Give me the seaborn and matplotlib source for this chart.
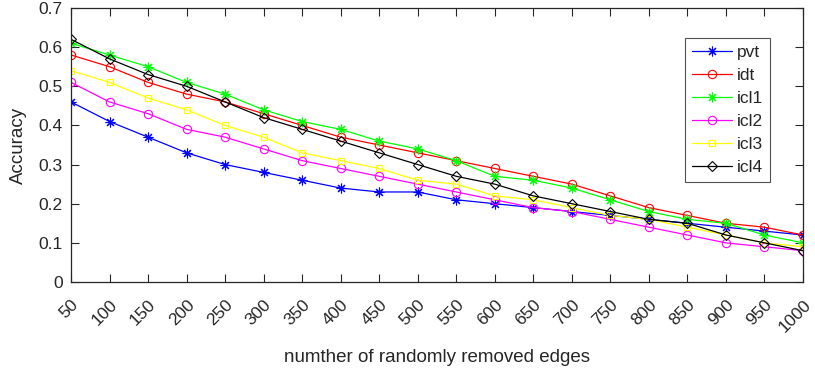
import matplotlib
matplotlib.use("Agg")
import matplotlib.pyplot as plt
import seaborn as sns
import pandas as pd

edges = [50, 100, 150, 200, 250, 300, 350, 400, 450, 500,
         550, 600, 650, 700, 750, 800, 850, 900, 950, 1000]
pvt = [0.46, 0.41, 0.37, 0.33, 0.30, 0.28, 0.26, 0.24, 0.23, 0.23,
       0.21, 0.20, 0.19, 0.18, 0.17, 0.16, 0.15, 0.14, 0.13, 0.12]
idt = [0.58, 0.55, 0.51, 0.48, 0.46, 0.43, 0.40, 0.37, 0.35, 0.33,
       0.31, 0.29, 0.27, 0.25, 0.22, 0.19, 0.17, 0.15, 0.14, 0.12]
icl1 = [0.61, 0.58, 0.55, 0.51, 0.48, 0.44, 0.41, 0.39, 0.36, 0.34,
        0.31, 0.27, 0.26, 0.24, 0.21, 0.18, 0.16, 0.15, 0.12, 0.10]
icl2 = [0.51, 0.46, 0.43, 0.39, 0.37, 0.34, 0.31, 0.29, 0.27, 0.25,
        0.23, 0.21, 0.19, 0.18, 0.16, 0.14, 0.12, 0.10, 0.09, 0.08]
icl3 = [0.54, 0.51, 0.47, 0.44, 0.40, 0.37, 0.33, 0.31, 0.29, 0.26,
        0.25, 0.22, 0.21, 0.19, 0.17, 0.16, 0.14, 0.12, 0.10, 0.09]
icl4 = [0.62, 0.57, 0.53, 0.50, 0.46, 0.42, 0.39, 0.36, 0.33, 0.30,
        0.27, 0.25, 0.22, 0.20, 0.18, 0.16, 0.15, 0.12, 0.10, 0.08]

series_names = ["pvt", "idt", "icl1", "icl2", "icl3", "icl4"]
series_values = [pvt, idt, icl1, icl2, icl3, icl4]
colors = ["#0000ff", "#ff0000", "#00ff00", "#ff00ff", "#ffff00", "#000000"]
asterisk = (8, 2, 0)
markers = [asterisk, "o", asterisk, "o", "s", "D"]
msizes = [7, 6, 7, 6, 5, 5.5]
y_ticks = [0, 0.1, 0.2, 0.3, 0.4, 0.5, 0.6, 0.7]
y_ticklabels = ["0", "0.1", "0.2", "0.3", "0.4", "0.5", "0.6", "0.7"]

sns.set_theme(style="white")
plt.rcParams["font.family"] = ["Liberation Sans", "DejaVu Sans"]

df = pd.DataFrame({
    "edges": edges * len(series_names),
    "acc": sum(series_values, []),
    "method": sum([[n] * len(edges) for n in series_names], []),
})

fig = plt.figure(figsize=(8.15, 3.75), dpi=100)
ax = fig.add_axes([0.0871, 0.248, 0.8982, 0.7307])

for name, col, mk, ms in zip(series_names, colors, markers, msizes):
    sub = df[df["method"] == name]
    filled = mk == asterisk
    sns.lineplot(data=sub, x="edges", y="acc", ax=ax, color=col, lw=0.9,
                 marker=mk, markersize=ms,
                 markerfacecolor=col if filled else "none",
                 markeredgecolor=col, markeredgewidth=0.8,
                 label=name, legend=False)

ax.set_xlim(50, 1000)
ax.set_ylim(0, 0.7)
ax.set_xticks(edges)
ax.set_xticklabels([str(e) for e in edges], rotation=45, ha="right",
                   va="top", rotation_mode="anchor", fontsize=12.5,
                   color="#262626")
ax.set_yticks(y_ticks)
ax.set_yticklabels(y_ticklabels, fontsize=12.5, color="#262626")
ax.tick_params(direction="in", length=6, width=0.8, colors="#262626",
               top=True, right=True, bottom=True, left=True,
               labelcolor="#262626")
ax.tick_params(axis="y", pad=6)
ax.tick_params(axis="x", pad=11)
for sp in ax.spines.values():
    sp.set_color("#262626")
    sp.set_linewidth(0.9)
ax.set_xlabel("numther of randomly removed edges", fontsize=13.5,
              color="#262626", labelpad=10)
ax.set_ylabel("Accuracy", fontsize=13.5, color="#262626", labelpad=8)
ax.grid(False)

leg = ax.legend(loc="upper right", bbox_to_anchor=(0.955, 0.89),
                borderaxespad=0, fontsize=12.5, frameon=True, fancybox=False,
                edgecolor="#262626", handlelength=2.3, labelspacing=0.45,
                handletextpad=0.3, borderpad=0.4)
leg.get_frame().set_linewidth(0.8)

fig.savefig("out.png", dpi=100)
